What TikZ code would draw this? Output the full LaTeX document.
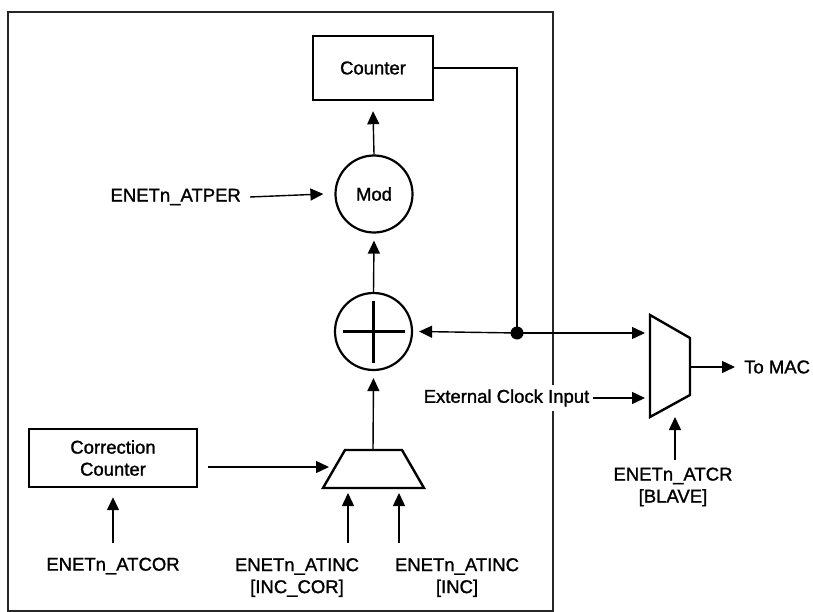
\documentclass[tikz,border=0pt]{standalone}
\usepackage{fontspec}
\setmainfont{Liberation Sans}
\newfontfamily\medfont{Liberation Sans}[FakeBold=1.3]
\usetikzlibrary{arrows.meta}
\begin{document}
\begin{tikzpicture}[x=1pt,y=-1pt,
  every node/.style={font=\medfont\fontsize{18.5}{22}\selectfont, inner sep=0pt},
  blk/.style={draw, line width=2.4pt, align=center},
  circ/.style={draw, circle, line width=2.2pt, minimum size=77pt},
  wire/.style={line width=1.4pt},
  arr/.style={line width=1.4pt, -{Triangle[length=13pt,width=12pt]}},
  lbl/.style={align=center},
  muxs/.style={line width=2.4pt, line join=miter}]
\useasboundingbox (0,0) rectangle (813,612);
% outer frame
\draw[line width=1.1pt, black!85] (8,12) rectangle (553,611);
% blocks
\node[blk, minimum width=120pt, minimum height=64pt] (counter) at (373,68) {Counter};
\node[circ] (mod) at (374,194) {Mod};
\node[circ] (add) at (373.5,331.5) {};
\draw[line width=2.2pt] ([xshift=-31pt]add.center) -- ([xshift=31pt]add.center);
\draw[line width=2.2pt] ([yshift=-31pt]add.center) -- ([yshift=31pt]add.center);
\node[blk, minimum width=168pt, minimum height=58pt] (corr) at (113,458) {Correction\\Counter};
% right mux
\draw[muxs] (650,315) -- (690,338) -- (690,395) -- (650,417) -- cycle;
\coordinate (rmin1) at (650,333);
\coordinate (rmin2) at (650,398);
\coordinate (rmout) at (690,367);
\coordinate (rmsel) at (675,404);
% lower mux
\draw[muxs] (345,450) -- (402,450) -- (424,488) -- (323,488) -- cycle;
\coordinate (lmout) at (373,450);
\coordinate (lmin) at (335,467);
\coordinate (lmsel1) at (348,488);
\coordinate (lmsel2) at (399,488);
% junction
\coordinate (jn) at (517,333);
\fill (jn) circle (6.5pt);
% labels
\node[anchor=east] (atper) at (241,197) {ENETn\_ATPER};
\node[fill=white, inner sep=4pt] (ext) at (506.5,398) {External Clock Input};
\node[anchor=west] (tomac) at (744,367) {To MAC};
\node[lbl] (atcr) at (673,487) {ENETn\_ATCR\\{[BLAVE]}};
\node[lbl] (atcor) at (113,566) {ENETn\_ATCOR};
\node[lbl, anchor=north] (atinc1) at (297,558) {ENETn\_ATINC\\{[INC\_COR]}};
\node[lbl, anchor=north] (atinc2) at (457,558) {ENETn\_ATINC\\{[INC]}};
% connectors
\draw[arr] (mod.north) -- ([yshift=-10pt]counter.south);
\draw[arr] (add.north) -- ([yshift=-7pt]mod.south);
\draw[arr] (lmout) -- ([yshift=-7pt]add.south);
\draw[arr] ([xshift=9pt]atper.east) -- ([xshift=-11pt]mod.west);
\draw[wire] (counter.east) -- (jn |- counter.east) -- (jn);
\draw[arr] (jn) -- ([xshift=6pt]add.east);
\draw[arr] (jn) -- ([xshift=-5pt]rmin1);
\draw[arr] (ext.east) -- ([xshift=-5pt]rmin2);
\draw[arr] (rmout) -- ([xshift=-9pt]tomac.west);
\draw[arr] (675,460) -- ([yshift=-13pt]rmsel);
\draw[arr] ([yshift=-9pt]corr.east) ++(10pt,0) -- ([xshift=-6pt]lmin);
\draw[arr] (113,543) -- ([yshift=-9pt]corr.south);
\draw[arr] (348,543) -- ([yshift=-5pt]lmsel1);
\draw[arr] (399,543) -- ([yshift=-5pt]lmsel2);
\end{tikzpicture}
\end{document}
